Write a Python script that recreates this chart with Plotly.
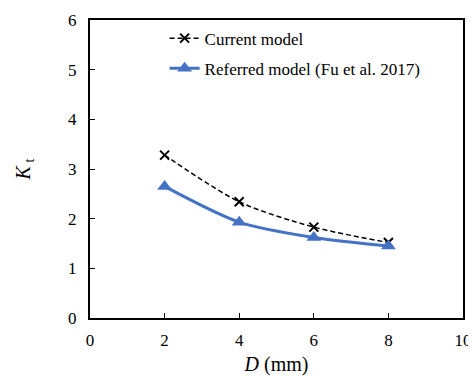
import plotly.graph_objects as go

D_mm = [2, 4, 6, 8]
current_model = [3.28, 2.34, 1.83, 1.52]
referred_model = [2.65, 1.93, 1.62, 1.45]

x_ticks = [0, 2, 4, 6, 8, 10]
y_ticks = [0, 1, 2, 3, 4, 5, 6]

font_family = "Liberation Serif, Times New Roman, serif"

fig = go.Figure()
fig.add_trace(go.Scatter(
    x=D_mm, y=current_model, name="Current model", mode="lines+markers",
    line=dict(color="black", width=1.5, dash="5px,3px", shape="spline", smoothing=0.8),
    marker=dict(symbol="x-thin", size=9, line=dict(color="black", width=2)),
    legendgroup="a",
))
fig.add_trace(go.Scatter(
    x=D_mm, y=referred_model, name="Referred model (Fu et al. 2017)", mode="lines+markers",
    line=dict(color="#4472C4", width=3, shape="spline", smoothing=0.8),
    marker=dict(symbol="triangle-up", size=13, color="#4472C4"),
    legendgroup="b",
))

# page body has an 8px default margin, so the figure is 8px smaller
fig.update_layout(
    width=468, height=368,
    margin=dict(l=82, r=13, t=12, b=58, autoexpand=False),
    paper_bgcolor="white", plot_bgcolor="white",
    font=dict(family=font_family, size=17, color="black"),
    showlegend=True,
    legend=dict(x=0.2, y=0.998, xanchor="left", yanchor="top",
                bgcolor="rgba(0,0,0,0)", tracegroupgap=5,
                font=dict(size=17)),
    xaxis=dict(range=[0, 10], tickvals=x_ticks, ticks="inside", ticklen=5,
               tickcolor="black", showline=True, linecolor="black", linewidth=2,
               mirror=True, showgrid=False, zeroline=False, automargin=False,
               ticklabelstandoff=6,
               title=dict(text="<i>D</i> (mm)", font=dict(size=20), standoff=8)),
    yaxis=dict(range=[0, 6], tickvals=y_ticks, ticks="inside", ticklen=5,
               tickcolor="black", showline=True, linecolor="black", linewidth=2,
               mirror=True, showgrid=False, zeroline=False, automargin=False,
               ticklabelstandoff=8,
               title=dict(text="<i>K</i><sub> t</sub>", font=dict(size=20), standoff=32)),
)

fig.write_html("out.html")
